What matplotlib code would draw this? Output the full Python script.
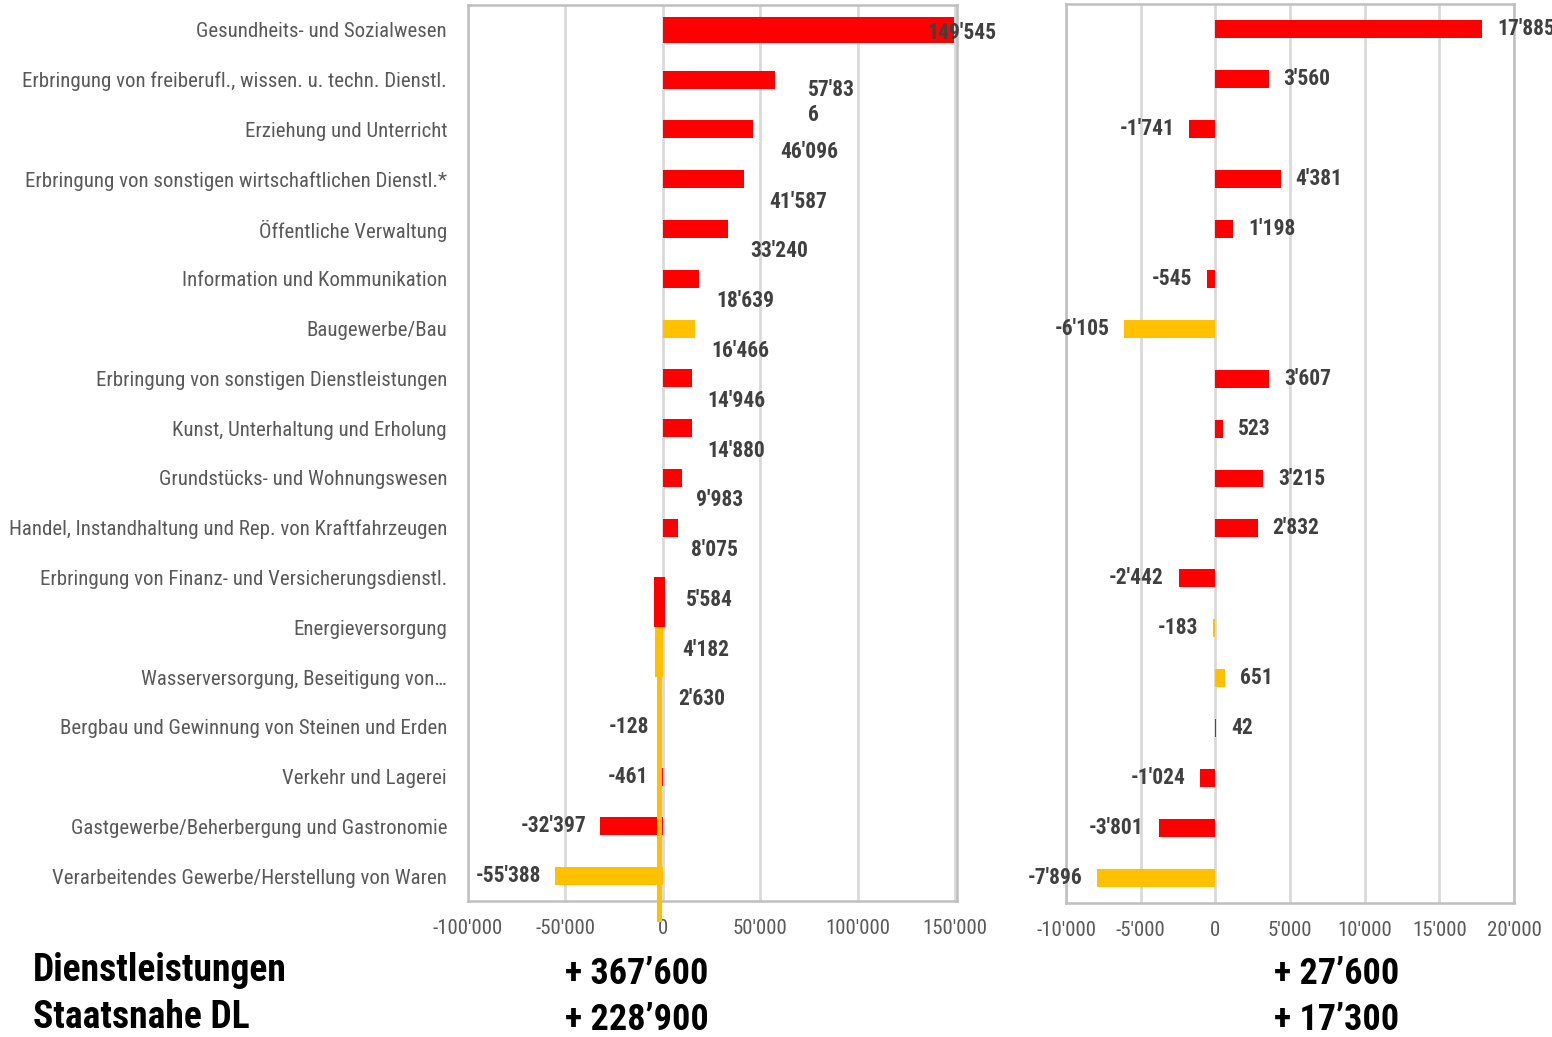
import matplotlib
matplotlib.use("Agg")
import matplotlib.pyplot as plt
import numpy as np

plt.rcParams['font.family'] = ['Roboto Condensed', 'DejaVu Sans']

branchen = [
    "Gesundheits- und Sozialwesen",
    "Erbringung von freiberufl., wissen. u. techn. Dienstl.",
    "Erziehung und Unterricht",
    "Erbringung von sonstigen wirtschaftlichen Dienstl.*",
    "Öffentliche Verwaltung",
    "Information und Kommunikation",
    "Baugewerbe/Bau",
    "Erbringung von sonstigen Dienstleistungen",
    "Kunst, Unterhaltung und Erholung",
    "Grundstücks- und Wohnungswesen",
    "Handel, Instandhaltung und Rep. von Kraftfahrzeugen",
    "Erbringung von Finanz- und Versicherungsdienstl.",
    "Energieversorgung",
    "Wasserversorgung, Beseitigung von…",
    "Bergbau und Gewinnung von Steinen und Erden",
    "Verkehr und Lagerei",
    "Gastgewerbe/Beherbergung und Gastronomie",
    "Verarbeitendes Gewerbe/Herstellung von Waren",
]

# absolute Veränderung (links) und zweite Periode (rechts)
werte_links = [149545, 57836, 46096, 41587, 33240, 18639, 16466, 14946, 14880,
               9983, 8075, 5584, 4182, 2630, -128, -461, -32397, -55388]
farben_links = ["r", "r", "r", "r", "r", "r", "y", "r", "r",
                "r", "r", "r", "y", "y", "y", "r", "r", "y"]

werte_rechts = [17885, 3560, -1741, 4381, 1198, -545, -6105, 3607, 523,
                3215, 2832, -2442, -183, 651, 42, -1024, -3801, -7896]
farben_rechts = ["r", "r", "r", "r", "r", "r", "y", "r", "r",
                 "r", "r", "r", "y", "y", "r", "r", "r", "y"]

summen_titel = ["Dienstleistungen", "Staatsnahe DL"]
summen_links = ["+ 367’600", "+ 228’900"]
summen_rechts = ["+ 27’600", "+ 17’300"]

ticks_links = [-100000, -50000, 0, 50000, 100000, 150000]
ticks_rechts = [-10000, -5000, 0, 5000, 10000, 15000, 20000]

ROT = "#FF0000"
GELB = "#FFC000"
cmap = {"r": ROT, "y": GELB}
GRAU_TXT = "#595959"
LABEL_TXT = "#404040"
FS_LABEL = 15.5


def fmt(v):
    return f"{v:,}".replace(",", "'")


fig = plt.figure(figsize=(15.52, 10.37), dpi=100)
ax1 = fig.add_axes([0.3015, 0.1311, 0.3151, 0.8641])
ax2 = fig.add_axes([0.6869, 0.1292, 0.2886, 0.8669])

y = np.arange(len(branchen))
n = len(branchen)

for ax, lim, ticks in [(ax1, (-100000, 151000), ticks_links),
                       (ax2, (-10000, 20000), ticks_rechts)]:
    ax.set_xlim(*lim)
    ax.set_ylim(n - 0.5, -0.5)
    ax.set_xticks(ticks)
    ax.set_xticklabels([fmt(t) for t in ticks], color=GRAU_TXT, fontsize=15)
    ax.tick_params(axis="x", length=0, pad=13)
    ax.grid(axis="x", color="#D9D9D9", linewidth=2)
    ax.set_axisbelow(True)
    for s in ax.spines.values():
        s.set_color("#BFBFBF")
        s.set_linewidth(1.8)

# linke Grafik: die drei kleinen positiven Werte (Finanz, Energie, Wasser)
# stehen als senkrechte Blöcke um die Nulllinie, der Rest waagrecht
senkrecht = [11, 12, 13]
hoehen = [0.52] + [0.36] * (n - 1)
waag = [i for i in range(n) if i not in senkrecht]
ax1.barh([y[i] for i in waag], [werte_links[i] for i in waag],
         height=[hoehen[i] for i in waag],
         color=[cmap[farben_links[i]] for i in waag])
for i in senkrecht:
    h = 1.0 if i < senkrecht[-1] else 4.92
    ax1.bar(-1800, h, width=werte_links[i], bottom=i, align="center",
            color=cmap[farben_links[i]], clip_on=False, zorder=3)

ax1.set_yticks(y)
ax1.set_yticklabels(branchen, color=GRAU_TXT, fontsize=15)
ax1.tick_params(axis="y", length=0, pad=15)

for i, v in enumerate(werte_links):
    if i == 0:
        ax1.text(v - 14000, i + 0.06, fmt(v), ha="left", va="center",
                 fontsize=FS_LABEL, fontweight="bold", color=LABEL_TXT)
    elif i == 1:
        s = fmt(v)
        ax1.text(1.2 * v + 5000, i + 0.46, s[:-1] + "\n" + s[-1], ha="left",
                 va="center", fontsize=FS_LABEL, fontweight="bold",
                 color=LABEL_TXT, linespacing=1.2)
    elif v > 0:
        ax1.text(1.2 * v + 5000, i + 0.45, fmt(v), ha="left", va="center",
                 fontsize=FS_LABEL, fontweight="bold", color=LABEL_TXT)
    else:
        ax1.text(v - 7000, i, fmt(v), ha="right", va="center",
                 fontsize=FS_LABEL, fontweight="bold", color=LABEL_TXT)

# rechte Grafik
ax2.barh(y, werte_rechts, height=0.36, color=[cmap[c] for c in farben_rechts])
ax2.set_yticks([])
for i, v in enumerate(werte_rechts):
    if v >= 0:
        ax2.text(v + 1000, i, fmt(v), ha="left", va="center",
                 fontsize=FS_LABEL, fontweight="bold", color=LABEL_TXT)
    else:
        ax2.text(v - 1000, i, fmt(v), ha="right", va="center",
                 fontsize=FS_LABEL, fontweight="bold", color=LABEL_TXT)

# Summen unten
for k, (t, a, b) in enumerate(zip(summen_titel, summen_links, summen_rechts)):
    yy = 0.064 - k * 0.045
    fig.text(0.021, yy, t, fontsize=27, fontweight="bold", va="center")
    fig.text(0.364, yy - 0.003, a, fontsize=26, fontweight="bold", va="center")
    fig.text(0.821, yy - 0.003, b, fontsize=26, fontweight="bold", va="center")

fig.savefig("out.png", dpi=100)
